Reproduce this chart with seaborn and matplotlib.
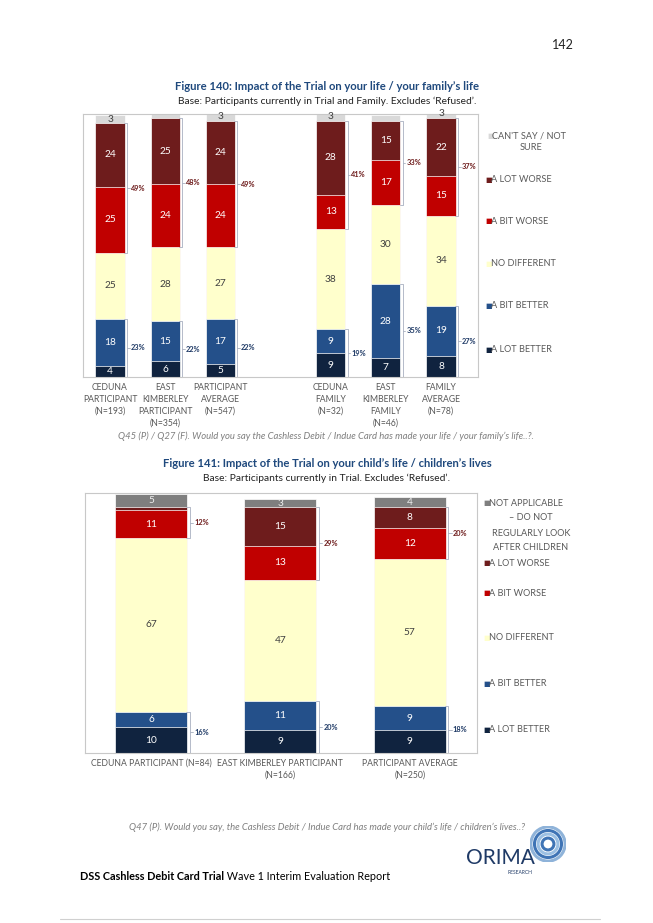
import numpy as np
import pandas as pd
import matplotlib
matplotlib.use("Agg")
import matplotlib.pyplot as plt
from matplotlib.patches import Circle
import seaborn as sns

sns.set_theme(style="white")
plt.rcParams['font.family'] = ['Lato', 'DejaVu Sans']

# Figure 140 data (bottom -> top)
groups1 = ["CEDUNA\nPARTICIPANT\n(N=193)", "EAST\nKIMBERLEY\nPARTICIPANT\n(N=354)",
           "PARTICIPANT\nAVERAGE\n(N=547)", "CEDUNA\nFAMILY\n(N=32)",
           "EAST\nKIMBERLEY\nFAMILY\n(N=46)", "FAMILY\nAVERAGE\n(N=78)"]
lot_better1 = [4, 6, 5, 9, 7, 8]
bit_better1 = [18, 15, 17, 9, 28, 19]
no_diff1 = [25, 28, 27, 38, 30, 34]
bit_worse1 = [25, 24, 24, 13, 17, 15]
lot_worse1 = [24, 25, 24, 28, 15, 22]
cant_say1 = [3, 2, 3, 3, 2, 3]
worse_net1 = [49, 48, 49, 41, 33, 37]
better_net1 = [23, 22, 22, 19, 35, 27]
labels1 = ["CAN'T SAY / NOT\nSURE", "A LOT WORSE", "A BIT WORSE", "NO DIFFERENT",
           "A BIT BETTER", "A LOT BETTER"]

# Figure 141 data (bottom -> top)
groups2 = ["CEDUNA PARTICIPANT (N=84)", "EAST KIMBERLEY PARTICIPANT\n(N=166)",
           "PARTICIPANT AVERAGE\n(N=250)"]
lot_better2 = [10, 9, 9]
bit_better2 = [6, 11, 9]
no_diff2 = [67, 47, 57]
bit_worse2 = [11, 13, 12]
lot_worse2 = [1, 15, 8]
not_appl2 = [5, 3, 4]
worse_net2 = [12, 29, 20]
better_net2 = [16, 20, 18]
labels2 = ["NOT APPLICABLE\n\u2013 DO NOT\nREGULARLY LOOK\nAFTER CHILDREN", "A LOT WORSE",
           "A BIT WORSE", "NO DIFFERENT", "A BIT BETTER", "A LOT BETTER"]

# colours bottom -> top
c_lot_better = "#10233f"
c_bit_better = "#24508a"
c_no_diff = "#ffffcc"
c_bit_worse = "#c00000"
c_lot_worse = "#6e1c1c"
cols1 = [c_lot_better, c_bit_better, c_no_diff, c_bit_worse, c_lot_worse, "#d9d9d9"]
cols2 = [c_lot_better, c_bit_better, c_no_diff, c_bit_worse, c_lot_worse, "#7f7f7f"]
txtcols1 = ["white", "white", "#404040", "white", "white", "#404040"]
txtcols2 = ["white", "white", "#404040", "white", "white", "#eeeeee"]

W, H = 653, 923
def fx(x):
    return x / W
def fy(y):
    return 1 - y / H

fig = plt.figure(figsize=(6.53, 9.23), dpi=100)
fig.patch.set_facecolor("white")

title_col = "#1f497d"
grey = "#595959"
leg_fs = 6.6
tick_fs = 6.2


def stacked(ax, groups, order, pos, series, colors, txtcols, width):
    cum = np.cumsum(np.array(series), axis=0)
    for k in range(len(series) - 1, -1, -1):
        df = pd.DataFrame({"group": groups, "value": cum[k]})
        sns.barplot(data=df, x="group", y="value", order=order, color=colors[k],
                    width=width, edgecolor="white", linewidth=0.5, errorbar=None,
                    saturation=1, ax=ax)
    for k, s in enumerate(series):
        for i, v in enumerate(s):
            if v >= 3:
                ax.text(pos[i], cum[k][i] - v / 2, str(v), ha="center", va="center",
                        color=txtcols[k], fontsize=7.3)
    return cum


def bracket(ax, x, y0, y1, text, tcol, foot):
    lc = "#a8b0c0"
    ax.plot([x - foot, x, x, x - foot], [y0, y0, y1, y1], color=lc, lw=0.6,
            clip_on=False)
    ym = (y0 + y1) / 2
    ax.plot([x, x + foot], [ym, ym], color=lc, lw=0.6, clip_on=False)
    ax.text(x + foot * 1.4, ym, text, ha="left", va="center", color=tcol,
            fontsize=5.3, fontweight="bold")


def frame(ax):
    ax.set_xlabel("")
    ax.set_ylabel("")
    ax.set_yticks([])
    for s in ax.spines.values():
        s.set_color("#c8c8c8")
        s.set_linewidth(0.8)
    ax.tick_params(axis="x", length=0, pad=4)
    for t in ax.get_xticklabels():
        t.set_fontsize(tick_fs)
        t.set_color(grey)
        t.set_linespacing(1.45)


def leg_text(x, y, s, ha="left"):
    fig.text(fx(x), fy(y), s, color=grey, fontsize=leg_fs, va="center", ha=ha)


def leg_mark(x, y, c):
    fig.text(fx(x), fy(y), "\u25a0", color=c, fontsize=5, va="center",
             family="DejaVu Sans")


# ---------- Figure 140 ----------
fig.text(fx(327), fy(86), "Figure 140: Impact of the Trial on your life / your family\u2019s life",
         ha="center", va="center", color=title_col, fontsize=8.1, fontweight="bold")
fig.text(fx(327), fy(101), "Base: Participants currently in Trial and Family. Excludes \u2018Refused\u2019.",
         ha="center", va="center", color="#222222", fontsize=7.4)

ax1 = fig.add_axes([fx(83), fy(377), fx(478) - fx(83), fy(114) - fy(377)])
order1 = groups1[:3] + [" "] + groups1[3:]
pos1 = [0, 1, 2, 4, 5, 6]
w1 = 0.53
series1 = [lot_better1, bit_better1, no_diff1, bit_worse1, lot_worse1, cant_say1]
cum1 = stacked(ax1, groups1, order1, pos1, series1, cols1, txtcols1, w1)
for i, p in enumerate(pos1):
    xb = p + w1 / 2 + 0.04
    bracket(ax1, xb, cum1[2][i], cum1[4][i], "%d%%" % worse_net1[i], "#6e1c1c", 0.05)
    bracket(ax1, xb, 0, cum1[1][i], "%d%%" % better_net1[i], "#1f3a66", 0.05)
ax1.set_xlim(-0.49, 6.67)
ax1.set_ylim(0, 99.5)
ax1.set_xticks(range(7))
ax1.set_xticklabels(order1)
frame(ax1)

leg1_y = [[136, 148], 180, 221, 264, 306, 350]
leg_cols1 = ["#d9d9d9", c_lot_worse, c_bit_worse, c_no_diff, c_bit_better, c_lot_better]
for lab, yy, c in zip(labels1, leg1_y, leg_cols1):
    if isinstance(yy, list):
        l1, l2 = lab.split("\n")
        leg_mark(487, yy[0], c)
        leg_text(492, yy[0], l1)
        leg_text(531, yy[1], l2, ha="center")
    else:
        leg_mark(485, yy, c)
        leg_text(491, yy, lab)

fig.text(fx(326), fy(436),
         "Q45 (P) / Q27 (F). Would you say the Cashless Debit / Indue Card has made your life / your family\u2019s life..?.",
         ha="center", va="center", color="#7f7f7f", fontsize=6.8, style="italic")

# ---------- Figure 141 ----------
fig.text(fx(327), fy(464), "Figure 141: Impact of the Trial on your child\u2019s life / children\u2019s lives",
         ha="center", va="center", color=title_col, fontsize=8.1, fontweight="bold")
fig.text(fx(327), fy(478), "Base: Participants currently in Trial. Excludes \u2018Refused\u2019.",
         ha="center", va="center", color="#222222", fontsize=7.4)

ax2 = fig.add_axes([fx(85), fy(753), fx(477) - fx(85), fy(493) - fy(753)])
pos2 = [0, 1, 2]
w2 = 0.556
series2 = [lot_better2, bit_better2, no_diff2, bit_worse2, lot_worse2, not_appl2]
cum2 = stacked(ax2, groups2, groups2, pos2, series2, cols2, txtcols2, w2)
for i, p in enumerate(pos2):
    xb = p + w2 / 2 + 0.02
    bracket(ax2, xb, cum2[2][i], cum2[4][i], "%d%%" % worse_net2[i], "#6e1c1c", 0.025)
    bracket(ax2, xb, 0, cum2[1][i], "%d%%" % better_net2[i], "#1f3a66", 0.025)
ax2.set_xlim(-0.51, 2.52)
ax2.set_ylim(0, 100.5)
ax2.set_xticks(range(3))
ax2.set_xticklabels(groups2)
frame(ax2)

leg2_y = [[503, 518, 533, 548], 563, 593, 638, 684, 730]
leg_cols2 = ["#7f7f7f", c_lot_worse, c_bit_worse, c_no_diff, c_bit_better, c_lot_better]
for lab, yy, c in zip(labels2, leg2_y, leg_cols2):
    if isinstance(yy, list):
        lines = lab.split("\n")
        leg_mark(483, yy[0], c)
        leg_text(489, yy[0], lines[0])
        for ln, y_ in zip(lines[1:], yy[1:]):
            leg_text(531, y_, ln, ha="center")
    else:
        leg_mark(483, yy, c)
        leg_text(489, yy, lab)

fig.text(fx(327), fy(827),
         "Q47 (P). Would you say, the Cashless Debit / Indue Card has made your child\u2019s life / children\u2019s lives..?",
         ha="center", va="center", color="#7f7f7f", fontsize=6.8, style="italic")

# ---------- page furniture ----------
fig.text(fx(563), fy(45), "142", ha="center", va="center", fontsize=9, color="#222222")

t1 = fig.text(fx(80), fy(877), "DSS Cashless Debit Card Trial", ha="left", va="center",
              fontsize=7.8, fontweight="bold", color="black")
plt.annotate(" Wave 1 Interim Evaluation Report", xy=(1, 0.5), xycoords=t1,
             ha="left", va="center", fontsize=7.8, color="black",
             annotation_clip=False)

fig.text(fx(500), fy(858), "ORIMA", ha="center", va="center", fontsize=15,
         color="#1f3a66")
fig.text(fx(520), fy(873), "RESEARCH", ha="center", va="center", fontsize=3.5,
         color="#1f3a66")
lax = fig.add_axes([fx(530), fy(862), fx(566) - fx(530), fy(826) - fy(862)])
lax.set_xlim(-1, 1)
lax.set_ylim(-1, 1)
lax.set_aspect("equal")
lax.axis("off")
for r, c in [(0.95, "#8fb3d9"), (0.75, "#3f74b5"), (0.55, "#9cc0e3"), (0.33, "#3f74b5")]:
    lax.add_patch(Circle((0, 0), r, fill=False, lw=2.2, color=c))

fig.add_artist(plt.Line2D([fx(60), fx(600)], [fy(919), fy(919)], color="#d0d0d0", lw=0.8))

fig.savefig("out.png", dpi=100)
